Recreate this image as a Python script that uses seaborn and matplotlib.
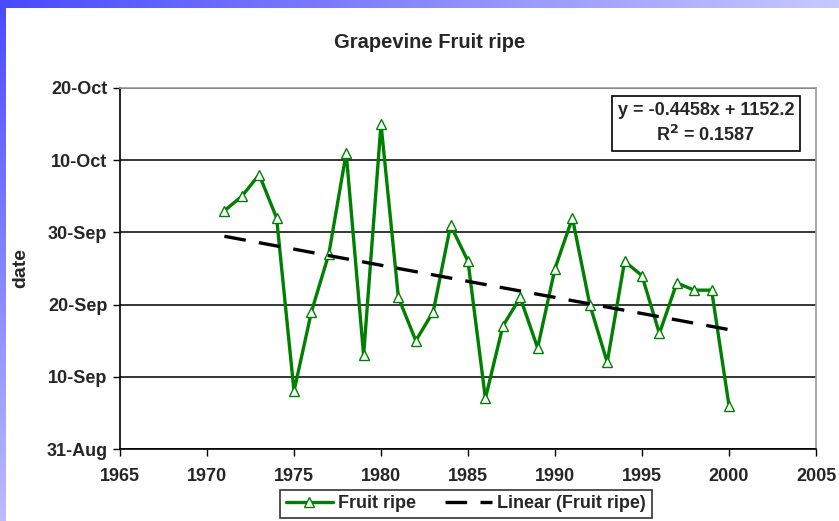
import pandas as pd
import seaborn as sns
import numpy as np
import matplotlib.pyplot as plt
import matplotlib.dates as mdates
from matplotlib.colors import LinearSegmentedColormap

# data
years = list(range(1971, 2001))
ripe_dates = ['03-Oct', '05-Oct', '08-Oct', '02-Oct', '08-Sep', '19-Sep', '27-Sep', '11-Oct',
              '13-Sep', '15-Oct', '21-Sep', '15-Sep', '19-Sep', '01-Oct', '26-Sep', '07-Sep',
              '17-Sep', '21-Sep', '14-Sep', '25-Sep', '02-Oct', '20-Sep', '12-Sep', '26-Sep',
              '24-Sep', '16-Sep', '23-Sep', '22-Sep', '22-Sep', '06-Sep']
x_ticks = [1965, 1970, 1975, 1980, 1985, 1990, 1995, 2000, 2005]
y_ticks = ['31-Aug', '10-Sep', '20-Sep', '30-Sep', '10-Oct', '20-Oct']
equation = 'y = -0.4458x + 1152.2\nR$^2$ = 0.1587'

df = pd.DataFrame({'year': years,
                   'date': pd.to_datetime(ripe_dates, format='%d-%b')})
df['num'] = mdates.date2num(df['date'])

sns.set_style('white')
plt.rcParams['font.family'] = ['Liberation Sans', 'DejaVu Sans']
plt.rcParams['font.weight'] = 'bold'
plt.rcParams['mathtext.default'] = 'bf'

fig = plt.figure(figsize=(8.39, 5.21), dpi=100)

# slide background strips
top = fig.add_axes([0, 1 - 8 / 521, 1, 8 / 521])
top.imshow(np.linspace(0, 1, 256)[None, :], aspect='auto',
           cmap=LinearSegmentedColormap.from_list('t', ['#4a4aff', '#c8c8ff']))
top.axis('off')
left = fig.add_axes([0, 0, 6 / 839, 1])
left.imshow(np.linspace(0, 1, 256)[:, None], aspect='auto',
            cmap=LinearSegmentedColormap.from_list('l', ['#4a4aff', '#bcbcff']))
left.axis('off')

ax = fig.add_axes([120 / 839, 1 - 449 / 521, 696 / 839, 361 / 521])

sns.lineplot(x='year', y='num', data=df, ax=ax, color='#008000', linewidth=2.4,
             marker='^', markersize=7, markerfacecolor='white',
             markeredgecolor='#008000', markeredgewidth=1.0, label='Fruit ripe')

# linear trend
coef = np.polyfit(df['year'], df['num'], 1)
xs = np.array([years[0], years[-1]])
ax.plot(xs, np.polyval(coef, xs), color='black', linewidth=2.4,
        dashes=(6.5, 4), label='Linear (Fruit ripe)')

y_nums = mdates.date2num(pd.to_datetime(y_ticks, format='%d-%b'))
ax.set_xlim(x_ticks[0], x_ticks[-1])
ax.set_ylim(y_nums[0], y_nums[-1])
ax.set_xticks(x_ticks)
ax.set_yticks(y_nums)
ax.set_yticklabels(y_ticks)
ax.yaxis.grid(True, color='black', linewidth=1.1)
ax.set_axisbelow(True)

for s in ['top', 'right']:
    ax.spines[s].set_color('#999999')
    ax.spines[s].set_linewidth(1.2)
for s in ['left', 'bottom']:
    ax.spines[s].set_color('black')
    ax.spines[s].set_linewidth(1.2)
ax.tick_params(axis='both', direction='out', length=5, width=1, color='black',
               labelsize=13, pad=4, bottom=True, left=True)
ax.tick_params(axis='x', pad=9)
for lab in ax.get_xticklabels() + ax.get_yticklabels():
    lab.set_fontweight('bold')

ax.set_xlabel('')
ax.set_ylabel('date', fontsize=14, fontweight='bold')
ax.yaxis.set_label_coords(-0.13, 0.5)

fig.text(430 / 839, 1 - 42 / 521, 'Grapevine Fruit ripe', ha='center', va='center',
         fontsize=14.5, fontweight='bold')

ax.text(0.842, 0.902, equation, transform=ax.transAxes, ha='center', va='center',
        fontsize=13, fontweight='bold', linespacing=1.4,
        bbox=dict(boxstyle='square,pad=0.3', facecolor='white', edgecolor='black',
                  linewidth=1.2))

leg = ax.legend(loc='center', bbox_to_anchor=(466 / 839, 1 - 504 / 521),
                bbox_transform=fig.transFigure, ncol=2, frameon=True, fancybox=False,
                edgecolor='black', fontsize=13, handlelength=2.6, columnspacing=1.6,
                borderpad=0.3, handletextpad=0.3)
leg.get_frame().set_linewidth(1.2)
for t in leg.get_texts():
    t.set_fontweight('bold')

fig.savefig('out.png', dpi=100)
